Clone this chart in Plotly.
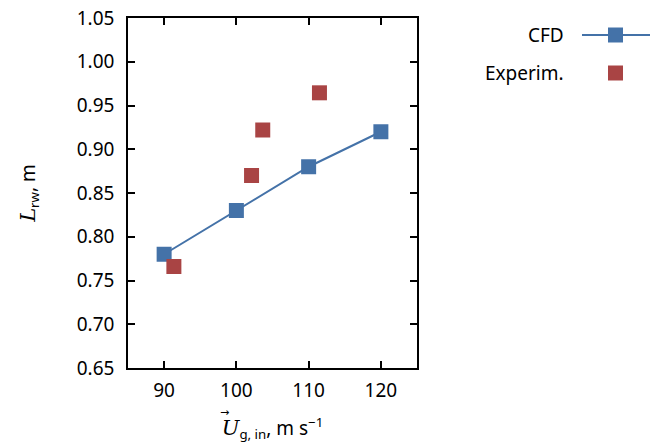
import plotly.graph_objects as go

# Recirculation-zone length versus inlet gas velocity
cfd_velocity = [90, 100, 110, 120]
cfd_length = [0.780, 0.830, 0.880, 0.920]

exp_velocity = [91.35, 102.1, 103.65, 111.5]
exp_length = [0.766, 0.870, 0.922, 0.9645]

x_ticks = [90, 100, 110, 120]
y_ticks = [0.65, 0.70, 0.75, 0.80, 0.85, 0.90, 0.95, 1.00, 1.05]

BLUE = "#4472A8"
RED = "#A94444"
FONT = "Noto Sans"
FS = 19

# Figure and plot-area geometry in pixels
FW, FH = 662, 443
L, R, T, B = 128, 245, 18, 75
W, H = FW - L - R, FH - T - B


def px(xp):
    return (xp - L) / W


def py(yp):
    return (FH - yp - B) / H


fig = go.Figure()

fig.add_trace(go.Scatter(
    x=cfd_velocity, y=cfd_length, mode="lines+markers", name="CFD",
    line=dict(color=BLUE, width=2),
    marker=dict(symbol="square", size=15, color=BLUE),
    showlegend=False,
))
fig.add_trace(go.Scatter(
    x=exp_velocity, y=exp_length, mode="markers", name="Experim.",
    marker=dict(symbol="square", size=15, color=RED),
    showlegend=False,
))

axis_common = dict(
    showline=True, linecolor="black", linewidth=1.5, mirror="ticks",
    ticks="inside", ticklen=7, tickwidth=1.5, tickcolor="black",
    showgrid=False, zeroline=False, automargin=False,
    tickfont=dict(family=FONT, size=FS, color="black"),
)

fig.update_xaxes(
    range=[85, 125], tickvals=x_ticks, ticktext=[str(v) for v in x_ticks],
    ticklabelstandoff=4,
    title=dict(
        text="<i><span style='font-family:DejaVu Serif;font-size:21px'>U</span></i>"
             "<sub>g, in</sub>, m s<sup>\u22121</sup>",
        font=dict(family=FONT, size=FS, color="black"), standoff=20),
    **axis_common,
)
fig.update_yaxes(
    range=[0.65, 1.05], tickvals=y_ticks, ticktext=[f"{v:.2f}" for v in y_ticks],
    ticklabelstandoff=8,
    title=dict(
        text="<i><span style='font-family:DejaVu Serif;font-size:21px'>L</span></i>"
             "<sub>rw</sub>, m",
        font=dict(family=FONT, size=FS, color="black"), standoff=36),
    **axis_common,
)

# Vector arrow over the U in the x-axis title
fig.add_annotation(
    x=px(224), y=py(412), xref="paper", yref="paper", text="\u2192",
    showarrow=False, xanchor="center", yanchor="middle",
    font=dict(family="DejaVu Sans", size=11, color="black"),
)

# Legend drawn to the right of the plot: label, then line/marker key
legend_rows = [("CFD", BLUE, True), ("Experim.", RED, False)]
row_y = [35, 73]
for (label, color, with_line), yy in zip(legend_rows, row_y):
    fig.add_annotation(
        x=px(566), y=py(yy), xref="paper", yref="paper", text=label,
        showarrow=False, xanchor="right", yanchor="middle",
        font=dict(family=FONT, size=FS, color="black"),
    )
    if with_line:
        fig.add_shape(type="line", xref="paper", yref="paper",
                      x0=px(582), x1=px(650), y0=py(yy), y1=py(yy),
                      line=dict(color=BLUE, width=2))
    fig.add_shape(type="rect", xref="paper", yref="paper",
                  x0=px(608), x1=px(623), y0=py(yy + 7.5), y1=py(yy - 7.5),
                  fillcolor=color, line=dict(width=0))

fig.update_layout(
    width=FW, height=FH,
    margin=dict(l=L, r=R, t=T, b=B, autoexpand=False),
    plot_bgcolor="white", paper_bgcolor="white",
    font=dict(family=FONT, color="black"),
)

fig.write_html("out.html")
